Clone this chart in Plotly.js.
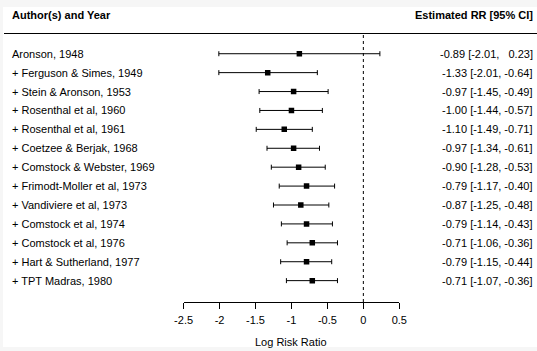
<!DOCTYPE html>
<html>
<head>
<meta charset="utf-8">
<script src="https://cdn.plot.ly/plotly-3.0.1.min.js"></script>
<style>html,body{margin:0;padding:0;background:#f6f6f6;}#chart{width:537px;height:351px;}</style>
</head>
<body>
<div id="chart"></div>
<script>
const labels = ["Aronson, 1948", "+ Ferguson & Simes, 1949", "+ Stein & Aronson, 1953", "+ Rosenthal et al, 1960", "+ Rosenthal et al, 1961", "+ Coetzee & Berjak, 1968", "+ Comstock & Webster, 1969", "+ Frimodt-Moller et al, 1973", "+ Vandiviere et al, 1973", "+ Comstock et al, 1974", "+ Comstock et al, 1976", "+ Hart & Sutherland, 1977", "+ TPT Madras, 1980"];
const estimates = [-0.89, -1.33, -0.97, -1.00, -1.10, -0.97, -0.90, -0.79, -0.87, -0.79, -0.71, -0.79, -0.71];
const ciLower = [-2.01, -2.01, -1.45, -1.44, -1.49, -1.34, -1.28, -1.17, -1.25, -1.14, -1.06, -1.15, -1.07];
const ciUpper = [0.23, -0.64, -0.49, -0.57, -0.71, -0.61, -0.53, -0.40, -0.48, -0.43, -0.36, -0.44, -0.36];
const tickVals = [-2.5, -2, -1.5, -1, -0.5, 0, 0.5];
const tickText = ["-2.5", "-2", "-1.5", "-1", "-0.5", "0", "0.5"];

const W = 537, H = 351;
const FONT = "Liberation Sans, Arial, Helvetica, sans-serif";
const n = labels.length;
const rows = labels.map((_, i) => n - i);

function fmt(v) { const s = v.toFixed(2); return v >= 0 ? "\u00a0" + s : s; }
const rightText = estimates.map((e, i) => fmt(e) + " [" + fmt(ciLower[i]) + ", " + (ciUpper[i] >= 0 ? "\u00a0" : "") + fmt(ciUpper[i]) + "]");

const px = v => v / W;
const py = v => 1 - v / H;

const yDomain = [py(302), py(33.5)];

const trace = {
  type: "scatter",
  mode: "markers",
  x: estimates,
  y: rows,
  marker: { symbol: "square", size: 5.5, color: "#000" },
  error_x: {
    type: "data", symmetric: false,
    array: estimates.map((e, i) => ciUpper[i] - e),
    arrayminus: estimates.map((e, i) => e - ciLower[i]),
    color: "#000", thickness: 1, width: 2.5
  },
  hoverinfo: "skip",
  showlegend: false
};

const annotations = [];
labels.forEach((l, i) => {
  annotations.push({ xref: "paper", yref: "y", x: px(10), y: rows[i], text: l, showarrow: false,
    xanchor: "left", yanchor: "middle", font: { family: FONT, size: 11, color: "#000" } });
  annotations.push({ xref: "paper", yref: "y", x: px(535), y: rows[i], text: rightText[i], showarrow: false,
    xanchor: "right", yanchor: "middle", font: { family: FONT, size: 11, color: "#000" } });
});
annotations.push({ xref: "paper", yref: "paper", x: px(10), y: py(15), text: "<b>Author(s) and Year</b>", showarrow: false,
  xanchor: "left", yanchor: "middle", font: { family: FONT, size: 11, color: "#000" } });
annotations.push({ xref: "paper", yref: "paper", x: px(535), y: py(15), text: "<b>Estimated RR [95% CI]</b>", showarrow: false,
  xanchor: "right", yanchor: "middle", font: { family: FONT, size: 11, color: "#000" } });
annotations.push({ xref: "paper", yref: "paper", x: px(291.3), y: py(341.5), text: "Log Risk Ratio", showarrow: false,
  xanchor: "center", yanchor: "middle", font: { family: FONT, size: 11, color: "#000" } });

const layout = {
  width: W, height: H,
  margin: { l: 0, r: 0, t: 0, b: 0, pad: 0 },
  paper_bgcolor: "#f6f6f6",
  plot_bgcolor: "#ffffff",
  showlegend: false,
  xaxis: {
    domain: [px(183.6), px(399.3)],
    range: [-2.5, 0.5],
    tickvals: tickVals, ticktext: tickText,
    ticks: "outside", ticklen: 6, tickwidth: 1, tickcolor: "#000",
    ticklabelstandoff: 2,
    showline: true, linecolor: "#000", linewidth: 1,
    showgrid: false, zeroline: false,
    tickfont: { family: FONT, size: 11, color: "#000" },
    fixedrange: true
  },
  yaxis: {
    domain: yDomain,
    range: [-0.13, 14.07],
    visible: false, showgrid: false, zeroline: false, fixedrange: true
  },
  shapes: [
    { type: "rect", xref: "paper", yref: "paper", x0: px(3), x1: 1, y0: py(347), y1: py(7), fillcolor: "#ffffff", line: { width: 0 }, layer: "below" },
    { type: "line", xref: "paper", yref: "paper", x0: px(4), x1: 1, y0: py(33.5), y1: py(33.5), line: { color: "#000", width: 1 } },
    { type: "line", xref: "x", yref: "paper", x0: 0, x1: 0, y0: yDomain[0], y1: yDomain[1], line: { color: "#000", width: 1, dash: "dot" } }
  ],
  annotations: annotations
};

Plotly.newPlot("chart", [trace], layout, { displayModeBar: false, staticPlot: true });
</script>
</body>
</html>
